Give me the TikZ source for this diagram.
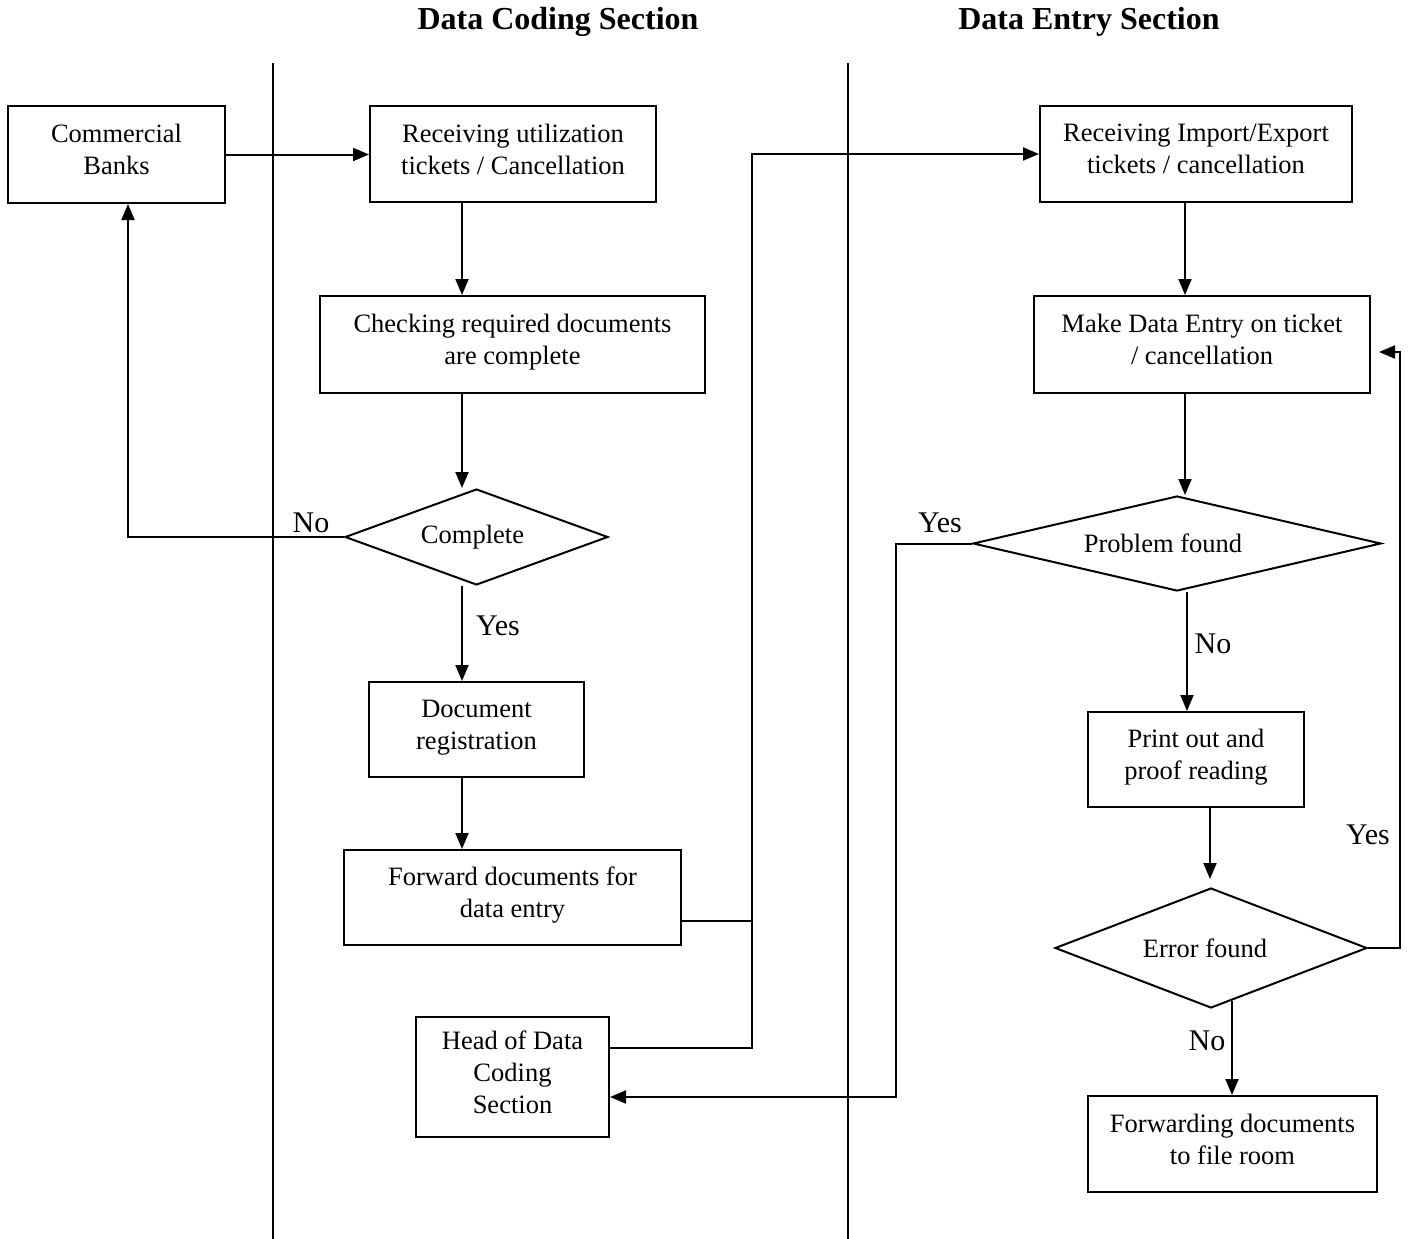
\documentclass[tikz,border=0pt]{standalone}
\usepackage{fontspec}
\setmainfont{Liberation Serif}
\usetikzlibrary{arrows.meta,shapes.geometric,calc}

\tikzset{
  box/.style={draw, line width=2pt, rectangle, inner sep=0pt, align=center,
              text depth=10pt, font=\fontsize{26.5pt}{32pt}\selectfont},
  decision/.style={draw, line width=2pt, diamond, inner sep=0pt,
              font=\fontsize{26.5pt}{32pt}\selectfont},
  flow/.style={line width=2pt},
  arr/.style={flow, -{Triangle[length=16pt,width=13pt]}},
  lane/.style={line width=1.7pt},
  answer/.style={font=\fontsize{30pt}{34pt}\selectfont, inner sep=0pt},
  heading/.style={font=\fontsize{32pt}{36pt}\selectfont\bfseries, inner sep=0pt}
}

\begin{document}
\begin{tikzpicture}[x=1pt,y=-1pt]
\useasboundingbox (0,0) rectangle (1417,1239);

% section headings and lane dividers
\node[heading] (hcode) at (558,22) {Data Coding Section};
\node[heading] (hentry) at (1089,22) {Data Entry Section};
\draw[lane] (273,63) -- (273,1239);
\draw[lane] (848,63) -- (848,1239);

% data coding section
\node[box, minimum width=217pt, minimum height=97pt] (banks) at (116.5,154.5) {Commercial\\Banks};
\node[box, minimum width=286pt, minimum height=96pt] (recv) at (513,154) {Receiving utilization\\tickets / Cancellation};
\node[box, minimum width=385pt, minimum height=97pt] (check) at (512.5,344.5) {Checking required documents\\are complete};
\node[decision, aspect=2.74, minimum width=263pt, minimum height=96pt] (complete) at (476.5,537) {Complete\hspace*{8pt}};
\node[box, minimum width=215pt, minimum height=95pt] (dreg) at (476.5,729.5) {Document\\registration};
\node[box, minimum width=337pt, minimum height=95pt] (fwd) at (512.5,897.5) {Forward documents for\\data entry};
\node[box, minimum width=193pt, minimum height=120pt] (head) at (512.5,1077) {Head of Data\\Coding\\Section};

% data entry section
\node[box, minimum width=312pt, minimum height=96pt] (recvie) at (1196,154) {Receiving Import/Export\\tickets / cancellation};
\node[box, minimum width=336pt, minimum height=97pt] (entry) at (1202,344.5) {Make Data Entry on ticket\\/ cancellation};
\node[decision, aspect=4.3, minimum width=408pt, minimum height=95pt] (prob) at (1177,543.5) {Problem found\hspace*{28pt}};
\node[box, minimum width=216pt, minimum height=95pt] (print) at (1196,759.5) {Print out and\\proof reading};
\node[decision, aspect=2.6, minimum width=312pt, minimum height=120pt] (err) at (1211,948) {Error found\hspace*{12pt}};
\node[box, minimum width=289pt, minimum height=96pt] (file) at (1232.5,1144) {Forwarding documents\\to file room};

% connector columns and joints
\coordinate (colA) at (462,0);
\coordinate (colB) at (128,0);
\coordinate (colC) at (1185,0);
\coordinate (colD) at (896,0);
\coordinate (colE) at (1187,0);
\coordinate (colF) at (1210,0);
\coordinate (colG) at (1232,0);
\coordinate (colH) at (1400,0);
\coordinate (jx) at (752,0);
\coordinate (fwdout) at ([yshift=-23.5pt]fwd.east);
\coordinate (headout) at ([yshift=29pt]head.east);
\coordinate (headin) at ([yshift=-20pt]head.east);
\coordinate (entryin) at ([yshift=-7.5pt]entry.east);

% coding flow
\draw[arr] (banks.east) -- (banks.east -| recv.west);
\draw[arr] (recv.south -| colA) -- (check.north -| colA);
\draw[arr] (check.south -| colA) -- (complete.north -| colA);
\draw[arr] (complete.south -| colA) -- (dreg.north -| colA);
\draw[arr] (dreg.south -| colA) -- (fwd.north -| colA);
\draw[arr] (complete.west) -| (banks.south -| colB);
\node[answer] (lno1) at (311,523) {No};
\node[answer] (lyes1) at (498,626) {Yes};

% hand-over to data entry
\draw[flow] (fwdout) -- (fwdout -| jx);
\draw[arr] (headout) -| (jx |- recvie.west) -- (recvie.west);

% entry flow
\draw[arr] (recvie.south -| colC) -- (entry.north -| colC);
\draw[arr] (entry.south -| colC) -- (prob.north -| colC);
\draw[arr] (prob.west) -| (headin -| colD) -- (headin);
\node[answer] (lyes2) at (940,523) {Yes};
\draw[arr] (prob.south -| colE) -- (print.north -| colE);
\node[answer] (lno2) at (1213,644) {No};
\draw[arr, shorten >=8pt] (print.south -| colF) -- (err.north -| colF);
\draw[arr, shorten >=8pt] (err.east) -| (entryin -| colH) -- (entryin);
\node[answer] (lyes3) at (1368,835) {Yes};
\draw[arr] ($(err.south -| colG)+(0,-8)$) -- (file.north -| colG);
\node[answer] (lno3) at (1207,1041) {No};
\end{tikzpicture}
\end{document}
